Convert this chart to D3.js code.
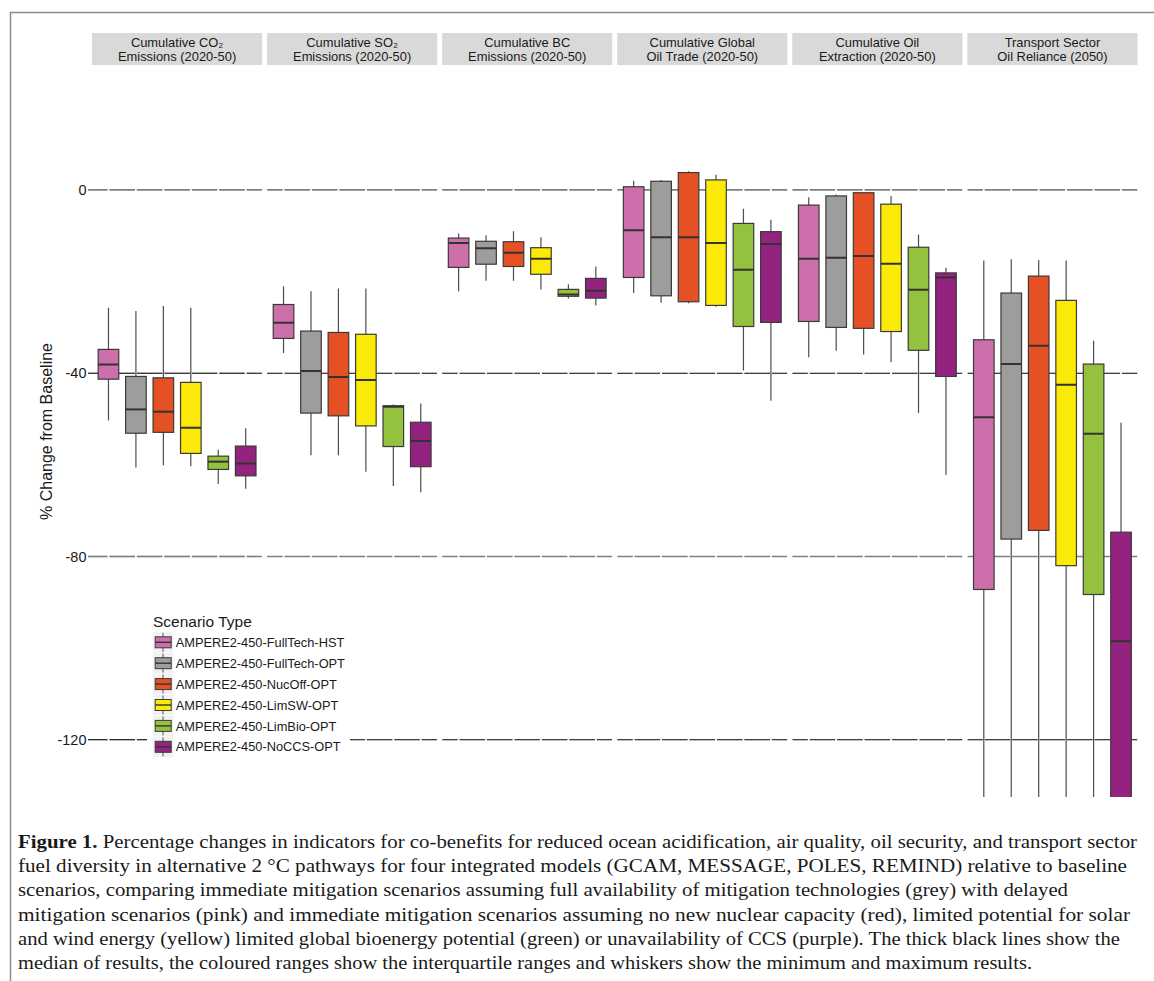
<!DOCTYPE html>
<html><head><meta charset="utf-8">
<script src="https://cdn.jsdelivr.net/npm/d3@7/dist/d3.min.js"></script>
<style>html,body{margin:0;padding:0;background:#fff;}svg{display:block;}</style>
</head><body>
<svg id="chart" width="1154" height="981"></svg>
<script>
// ---------- data ----------
const panelTitles = [
  ["Cumulative CO\u2082", "Emissions (2020-50)"],
  ["Cumulative SO\u2082", "Emissions (2020-50)"],
  ["Cumulative BC", "Emissions (2020-50)"],
  ["Cumulative Global", "Oil Trade (2020-50)"],
  ["Cumulative Oil", "Extraction (2020-50)"],
  ["Transport Sector", "Oil Reliance (2050)"]
];
const scenarios = [
  "AMPERE2-450-FullTech-HST",
  "AMPERE2-450-FullTech-OPT",
  "AMPERE2-450-NucOff-OPT",
  "AMPERE2-450-LimSW-OPT",
  "AMPERE2-450-LimBio-OPT",
  "AMPERE2-450-NoCCS-OPT"
];
const yTicks = [0, -40, -80, -120];
// [min, q1, median, q3, max] per scenario
const co2Stats = [
  [-50.3, -41.3, -38.1, -34.8, -25.7],
  [-60.6, -53.1, -47.9, -40.7, -26.4],
  [-60.1, -52.9, -48.4, -41.0, -25.3],
  [-60.3, -57.5, -51.9, -42.0, -25.7],
  [-64.2, -61.0, -59.3, -58.1, -56.7],
  [-65.2, -62.4, -59.7, -55.9, -52.0]
];
const so2Stats = [
  [-35.6, -32.4, -29.0, -25.0, -21.0],
  [-57.9, -48.7, -39.5, -30.8, -22.1],
  [-57.9, -49.3, -40.8, -31.1, -21.5],
  [-61.5, -51.5, -41.5, -31.5, -21.5],
  [-64.6, -56.0, -47.3, -47.1, -46.8],
  [-66.0, -60.4, -54.8, -50.7, -46.6]
];
const bcStats = [
  [-22.1, -16.9, -11.6, -10.5, -9.5],
  [-19.8, -16.2, -12.7, -11.2, -9.9],
  [-19.8, -16.7, -13.7, -11.3, -9.0],
  [-21.7, -18.4, -15.0, -12.6, -10.3],
  [-23.7, -23.2, -22.8, -21.7, -20.6],
  [-25.2, -23.6, -22.0, -19.3, -16.7]
];
const oilTradeStats = [
  [-22.5, -19.1, -8.8, 0.7, 2.0],
  [-24.6, -23.1, -10.3, 1.9, 2.2],
  [-24.7, -24.4, -10.3, 3.8, 4.1],
  [-25.5, -25.2, -11.6, 2.2, 3.3],
  [-39.4, -29.8, -17.4, -7.3, -4.1],
  [-46.0, -28.9, -11.8, -9.1, -6.5]
];
const oilExtractionStats = [
  [-36.5, -28.7, -15.0, -3.3, -1.6],
  [-35.1, -30.0, -14.8, -1.3, -1.0],
  [-35.9, -30.2, -14.4, -0.6, -0.5],
  [-37.6, -30.9, -16.1, -3.1, -1.3],
  [-48.7, -35.0, -21.8, -12.5, -9.7],
  [-62.2, -40.7, -19.1, -18.1, -17.0]
];
const transportStats = [
  [-140, -87.2, -49.6, -32.7, -15.4],
  [-140, -76.2, -38.0, -22.5, -15.1],
  [-140, -74.3, -34.0, -18.8, -15.3],
  [-140, -82.0, -42.5, -24.1, -15.4],
  [-140, -88.3, -53.2, -38.0, -32.9],
  [-140, -136, -98.5, -74.7, -50.8]
];
const panelStats = [co2Stats, so2Stats, bcStats, oilTradeStats, oilExtractionStats, transportStats];

const captionLines = [
  "Percentage changes in indicators for co-benefits for reduced ocean acidification, air quality, oil security, and transport sector",
  "fuel diversity in alternative 2 \u00B0C pathways for four integrated models (GCAM, MESSAGE, POLES, REMIND) relative to baseline",
  "scenarios, comparing immediate mitigation scenarios assuming full availability of mitigation technologies (grey) with delayed",
  "mitigation scenarios (pink) and immediate mitigation scenarios assuming no new nuclear capacity (red), limited potential for solar",
  "and wind energy (yellow) limited global bioenergy potential (green) or unavailability of CCS (purple). The thick black lines show the",
  "median of results, the coloured ranges show the interquartile ranges and whiskers show the minimum and maximum results."
];

// ---------- styles ----------
const colors = ["#cc6fab", "#9d9d9b", "#e55125", "#fbea08", "#94c13e", "#94237f"];
const sans = "'Liberation Sans', Arial, Helvetica, sans-serif";
const serif = "'Liberation Serif', 'Times New Roman', serif";

const svg = d3.select("#chart");

// frame
svg.append("line").attr("x1", 10.5).attr("x2", 10.5).attr("y1", 12).attr("y2", 981)
  .attr("stroke", "#8c8c8c").attr("stroke-width", 1.5);
svg.append("line").attr("x1", 10).attr("x2", 1154).attr("y1", 12.5).attr("y2", 12.5)
  .attr("stroke", "#8c8c8c").attr("stroke-width", 1.5);

const panelTop = 66, panelBottom = 797;
const y = d3.scaleLinear().domain([-132.5, 27.06]).range([panelBottom, panelTop]);

const xPanel = d3.scaleBand().domain(d3.range(panelTitles.length)).range([92, 1137.5]).paddingInner(0.028);
const bw = xPanel.bandwidth();
const xInner = d3.scalePoint().domain(scenarios).range([0, bw]).padding(0.6);
const step = xInner.step();
const boxW = step * 0.75;

svg.append("defs").append("clipPath").attr("id", "pclip")
  .append("rect").attr("x", 0).attr("y", panelTop).attr("width", bw).attr("height", panelBottom - panelTop);

// y axis labels & ticks
const yAxisG = svg.append("g");
yTicks.forEach(t => {
  const isGray = (t === 0 || t === -80);
  yAxisG.append("line").attr("x1", 88).attr("x2", 92).attr("y1", y(t)).attr("y2", y(t))
    .attr("stroke", isGray ? "#7f7f7f" : "#000").attr("stroke-width", isGray ? 1.7 : 1.1);
  yAxisG.append("text").attr("x", 86.5).attr("y", y(t)).attr("dy", "0.36em")
    .attr("text-anchor", "end").attr("font-family", sans).attr("font-size", 14.5)
    .attr("fill", "#1a1a1a").text(t);
});
svg.append("text").attr("transform", `translate(52,${(panelTop + panelBottom) / 2}) rotate(-90)`)
  .attr("text-anchor", "middle").attr("font-family", sans).attr("font-size", 16)
  .attr("fill", "#1a1a1a").text("% Change from Baseline");

panelTitles.forEach((title, pi) => {
  const g = svg.append("g").attr("transform", `translate(${xPanel(pi)},0)`);
  // strip
  g.append("rect").attr("x", 0).attr("y", 33).attr("width", bw).attr("height", 32).attr("fill", "#d9d9d9");
  title.forEach((ln, li) => {
    g.append("text").attr("x", bw / 2).attr("y", 46.5 + li * 14).attr("text-anchor", "middle")
      .attr("font-family", sans).attr("font-size", 12.9).attr("fill", "#1a1a1a").text(ln);
  });
  const body = g.append("g").attr("clip-path", "url(#pclip)");
  // horizontal reference lines with tiny gaps at box centres
  yTicks.forEach(t => {
    const isGray = (t === 0 || t === -80);
    const cs = scenarios.map(s => xInner(s));
    const edges = [0].concat(cs.flatMap(c => [c - 0.9, c + 0.9])).concat([bw]);
    for (let k = 0; k < edges.length; k += 2) {
      body.append("line").attr("x1", edges[k]).attr("x2", edges[k + 1])
        .attr("y1", y(t)).attr("y2", y(t))
        .attr("stroke", isGray ? "#7f7f7f" : "#000").attr("stroke-width", isGray ? 1.7 : 1.1);
    }
  });
  // boxes
  const stats = panelStats[pi];
  stats.forEach((st, si) => {
    const cx = xInner(scenarios[si]);
    const [mn, q1, md, q3, mx] = st;
    body.append("line").attr("x1", cx).attr("x2", cx).attr("y1", y(mx)).attr("y2", y(mn))
      .attr("stroke", "#4d4d4d").attr("stroke-width", 1.2);
    body.append("rect").attr("x", cx - boxW / 2).attr("width", boxW)
      .attr("y", y(q3)).attr("height", y(q1) - y(q3))
      .attr("fill", colors[si]).attr("stroke", "#3a3a3a").attr("stroke-width", 1.2);
    body.append("line").attr("x1", cx - boxW / 2).attr("x2", cx + boxW / 2)
      .attr("y1", y(md)).attr("y2", y(md)).attr("stroke", "#333").attr("stroke-width", 2);
  });
});

// legend
const lg = svg.append("g");
lg.append("rect").attr("x", 147).attr("y", 606).attr("width", 203).attr("height", 156).attr("fill", "#fff");
lg.append("text").attr("x", 153).attr("y", 627).attr("font-family", sans).attr("font-size", 15.5)
  .attr("fill", "#1a1a1a").text("Scenario Type");
scenarios.forEach((s, i) => {
  const cy = 642.3 + i * 20.9;
  lg.append("rect").attr("x", 152.7).attr("y", cy - 10.2).attr("width", 20.6).attr("height", 20.4).attr("fill", "#f2f2f2");
  lg.append("line").attr("x1", 163).attr("x2", 163).attr("y1", cy - 9.5).attr("y2", cy + 9.5)
    .attr("stroke", "#555").attr("stroke-width", 1);
  lg.append("rect").attr("x", 155.2).attr("y", cy - 5.5).attr("width", 16).attr("height", 11)
    .attr("fill", colors[i]).attr("stroke", "#3a3a3a").attr("stroke-width", 1);
  lg.append("line").attr("x1", 155.2).attr("x2", 171.2).attr("y1", cy).attr("y2", cy)
    .attr("stroke", "#333").attr("stroke-width", 1.4);
  lg.append("text").attr("x", 175.7).attr("y", cy).attr("dy", "0.36em").attr("font-family", sans)
    .attr("font-size", 12.8).attr("fill", "#1a1a1a").text(s);
});

// caption
const capEnds = [1137, 1127, 1068, 1130, 1120, 1032];
captionLines.forEach((ln, i) => {
  const t = svg.append("text").attr("x", 18).attr("y", 848 + i * 24.2)
    .attr("font-family", serif).attr("font-size", 18.5).attr("fill", "#1a1a1a")
    .attr("textLength", capEnds[i] - 18).attr("lengthAdjust", "spacingAndGlyphs");
  if (i === 0) {
    t.append("tspan").attr("font-weight", "bold").text("Figure 1. ");
    t.append("tspan").text(ln);
  } else {
    t.text(ln);
  }
});
</script>
</body></html>
